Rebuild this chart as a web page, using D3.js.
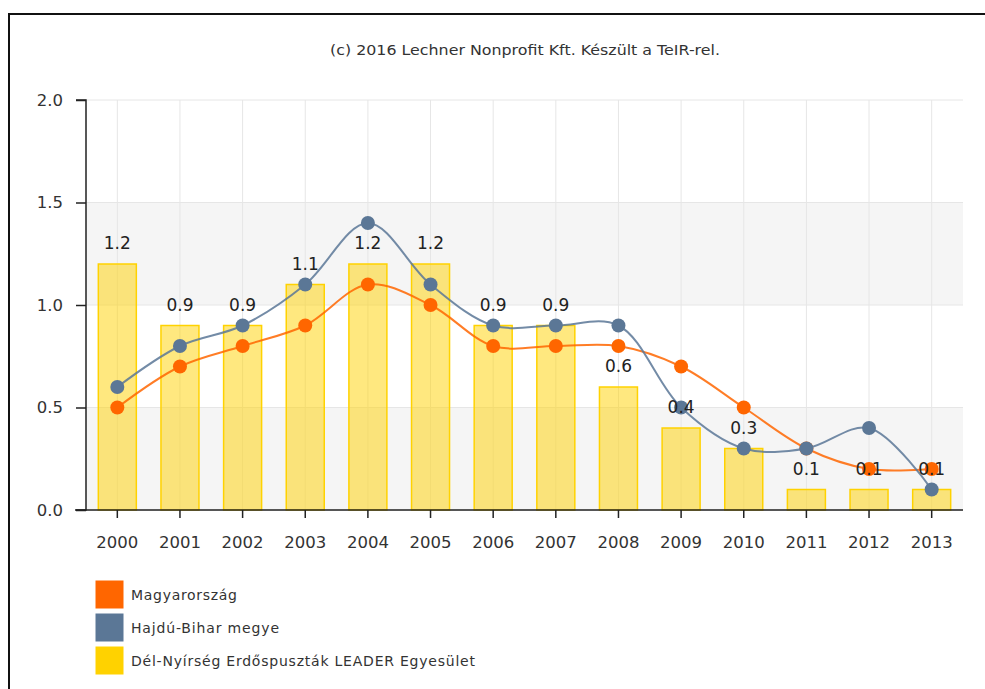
<!DOCTYPE html>
<html><head><meta charset="utf-8">
<script src="https://cdn.jsdelivr.net/npm/d3@7"></script>
<style>body{margin:0;background:#fff}svg{display:block}</style>
</head><body>
<svg id="c" width="985" height="689"></svg>
<script>
const years = ["2000","2001","2002","2003","2004","2005","2006","2007","2008","2009","2010","2011","2012","2013"];
const magyarorszag = [0.5,0.7,0.8,0.9,1.1,1.0,0.8,0.8,0.8,0.7,0.5,0.3,0.2,0.2];
const hajduBihar = [0.6,0.8,0.9,1.1,1.4,1.1,0.9,0.9,0.9,0.5,0.3,0.3,0.4,0.1];
const leader = [1.2,0.9,0.9,1.1,1.2,1.2,0.9,0.9,0.6,0.4,0.3,0.1,0.1,0.1];
const yTicks = [0,0.5,1.0,1.5,2.0];
const seriesNames = ["Magyarország","Hajdú-Bihar megye","Dél-Nyírség Erdőspuszták LEADER Egyesület"];
const colors = ["#ff6600","#5b7796","#ffd200"];
const title = "(c) 2016 Lechner Nonprofit Kft. Készült a TeIR-rel.";

const svg = d3.select("#c");
const font = "'DejaVu Sans', Verdana, sans-serif";
const L = 86, R = 963, T = 100, B = 510;

// frame
svg.append("rect").attr("x",9).attr("y",14).attr("width",1000).attr("height",700)
  .attr("fill","#fff").attr("stroke","#111").attr("stroke-width",2);

svg.append("text").attr("x",330).attr("y",55)
  .attr("font-family",font).attr("font-size",13.5)
  .attr("textLength",390).attr("lengthAdjust","spacingAndGlyphs")
  .attr("fill","#333").text(title);

const x = d3.scaleBand().domain(years).range([L,R]).paddingInner(0).paddingOuter(0);
const y = d3.scaleLinear().domain([0,2]).range([B,T]);
const cx = d => x(d) + x.bandwidth()/2;

// alternating bands
for (let i=0;i<yTicks.length-1;i++){
  if (i%2===0){
    svg.append("rect").attr("x",L).attr("width",R-L)
      .attr("y",y(yTicks[i+1])).attr("height",y(yTicks[i])-y(yTicks[i+1]))
      .attr("fill","#f5f5f5");
  }
}
// grid lines
svg.append("g").selectAll("line").data(yTicks).join("line")
  .attr("x1",L).attr("x2",R).attr("y1",d=>y(d)).attr("y2",d=>y(d))
  .attr("stroke","#e6e6e6").attr("stroke-width",1);
svg.append("g").selectAll("line").data(years).join("line")
  .attr("x1",d=>cx(d)).attr("x2",d=>cx(d)).attr("y1",T).attr("y2",B)
  .attr("stroke","#e6e6e6").attr("stroke-width",1);

// bars
const bw = 38;
svg.append("g").selectAll("rect").data(leader).join("rect")
  .attr("x",(d,i)=>cx(years[i])-bw/2).attr("width",bw)
  .attr("y",d=>y(d)).attr("height",d=>B-y(d))
  .attr("fill","#ffd200").attr("fill-opacity",0.5)
  .attr("stroke","#ffd200").attr("stroke-width",1.5);

// lines
function drawLine(vals,color){
  const line = d3.line().x((d,i)=>cx(years[i])).y(d=>y(d)).curve(d3.curveCatmullRom.alpha(0.5));
  svg.append("path").datum(vals).attr("d",line).attr("fill","none")
    .attr("stroke",color).attr("stroke-width",2).attr("stroke-opacity",0.85);
  svg.append("g").selectAll("circle").data(vals).join("circle")
    .attr("cx",(d,i)=>cx(years[i])).attr("cy",d=>y(d)).attr("r",7).attr("fill",color);
}
drawLine(magyarorszag,colors[0]);
drawLine(hajduBihar,colors[1]);

// data labels
svg.append("g").selectAll("text").data(leader).join("text")
  .attr("x",(d,i)=>cx(years[i])).attr("y",d=>y(d)-15)
  .attr("text-anchor","middle").attr("font-family",font).attr("font-size",17)
  .attr("fill","#222").text(d=>d.toFixed(1));

// axes
const yAxis = svg.append("g").attr("transform",`translate(${L},0)`)
  .call(d3.axisLeft(y).tickValues(yTicks).tickFormat(d3.format(".1f")).tickSize(10).tickPadding(13));
yAxis.select(".domain").attr("stroke","#222").attr("stroke-width",1.5).attr("d",`M-10,${T}H0V${B}H-10`);
yAxis.selectAll(".tick line").attr("stroke","#222").attr("stroke-width",1.5);
yAxis.selectAll("text").attr("font-family",font).attr("font-size",16.5).attr("fill","#333");

const xAxis = svg.append("g").attr("transform",`translate(0,${B})`)
  .call(d3.axisBottom(x).tickSize(8).tickPadding(18));
xAxis.select(".domain").attr("stroke","#222").attr("stroke-width",1.5).attr("d",`M${L-11},0H${R}`);
xAxis.selectAll(".tick line").attr("stroke","#222").attr("stroke-width",1.5);
xAxis.selectAll("text").attr("font-family",font).attr("font-size",16.5).attr("fill","#333");

// legend
const legendWidths = [106,148,344];
const lg = svg.append("g").selectAll("g").data(seriesNames).join("g")
  .attr("transform",(d,i)=>`translate(95,${580+i*33})`);
lg.append("rect").attr("width",29).attr("height",29).attr("fill",(d,i)=>colors[i])
  .attr("stroke","#fff").attr("stroke-width",1);
lg.append("text").attr("x",36).attr("y",15).attr("dy","0.35em")
  .attr("font-family",font).attr("font-size",14).attr("fill","#333")
  .attr("textLength",(d,i)=>legendWidths[i]).attr("lengthAdjust","spacing").text(d=>d);
</script>
</body></html>
